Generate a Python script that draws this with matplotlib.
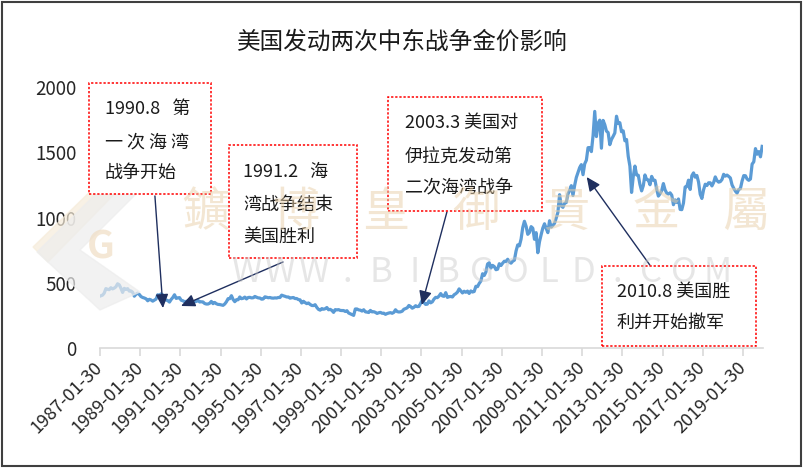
import numpy as np
import matplotlib.pyplot as plt
from matplotlib.patches import Rectangle, Polygon

plt.rcParams['font.family'] = ['Noto Sans CJK SC', 'DejaVu Sans']

# 月度金价 (美元/盎司), 1987-01 ~ 2019-12
gold_1987 = [400, 405, 420, 455, 450, 447, 462, 453, 459, 469, 492, 484]
gold_1988 = [458, 426, 457, 449, 455, 436, 437, 427, 397, 412, 420, 410]
gold_1989 = [394, 387, 383, 377, 362, 373, 368, 359, 367, 375, 408, 401]
gold_1990 = [415, 407, 368, 368, 363, 352, 372, 387, 408, 380, 384, 386]
gold_1991 = [366, 362, 355, 357, 360, 367, 362, 347, 354, 357, 366, 353]
gold_1992 = [354, 353, 341, 337, 337, 343, 357, 340, 349, 339, 334, 333]
gold_1993 = [330, 327, 337, 354, 378, 378, 401, 372, 355, 370, 370, 391]
gold_1994 = [378, 381, 390, 376, 387, 388, 384, 385, 395, 389, 384, 383]
gold_1995 = [374, 376, 392, 389, 385, 387, 383, 382, 384, 383, 387, 387]
gold_1996 = [405, 400, 396, 391, 391, 382, 385, 387, 379, 379, 371, 369]
gold_1997 = [345, 358, 348, 340, 345, 334, 326, 325, 332, 311, 296, 290]
gold_1998 = [302, 297, 301, 310, 293, 296, 288, 273, 294, 292, 294, 288]
gold_1999 = [287, 287, 280, 286, 268, 262, 256, 250, 299, 299, 292, 290]
gold_2000 = [283, 293, 277, 275, 272, 288, 277, 278, 273, 265, 270, 273]
gold_2001 = [266, 267, 258, 264, 268, 271, 266, 273, 293, 279, 276, 277]
gold_2002 = [282, 297, 302, 308, 326, 318, 305, 312, 324, 317, 319, 342]
gold_2003 = [368, 348, 334, 336, 361, 346, 354, 375, 388, 386, 398, 417]
gold_2004 = [399, 396, 424, 388, 393, 395, 391, 408, 416, 428, 453, 438]
gold_2005 = [422, 435, 427, 436, 418, 437, 429, 433, 473, 470, 495, 513]
gold_2006 = [569, 556, 582, 644, 653, 613, 633, 624, 600, 604, 646, 632]
gold_2007 = [650, 665, 662, 680, 659, 650, 665, 673, 743, 790, 783, 834]
gold_2008 = [923, 971, 933, 871, 885, 930, 918, 833, 884, 730, 814, 869]
gold_2009 = [920, 952, 916, 884, 975, 926, 939, 956, 996, 1040, 1175, 1088]
gold_2010 = [1078, 1109, 1115, 1180, 1208, 1244, 1169, 1246, 1307, 1346, 1383, 1405]
gold_2011 = [1328, 1411, 1439, 1535, 1536, 1505, 1628, 1813, 1620, 1723, 1746, 1531]
gold_2012 = [1744, 1711, 1662, 1651, 1558, 1598, 1622, 1648, 1776, 1720, 1726, 1657]
gold_2013 = [1664, 1588, 1598, 1469, 1394, 1192, 1314, 1394, 1326, 1324, 1253, 1204]
gold_2014 = [1244, 1326, 1291, 1288, 1251, 1315, 1285, 1285, 1216, 1164, 1182, 1206]
gold_2015 = [1260, 1212, 1187, 1180, 1189, 1171, 1098, 1135, 1115, 1142, 1062, 1060]
gold_2016 = [1111, 1234, 1237, 1286, 1215, 1320, 1342, 1309, 1322, 1272, 1178, 1146]
gold_2017 = [1212, 1255, 1245, 1266, 1266, 1242, 1268, 1311, 1283, 1271, 1275, 1291]
gold_2018 = [1331, 1317, 1325, 1315, 1303, 1250, 1224, 1202, 1187, 1215, 1221, 1279]
gold_2019 = [1321, 1320, 1295, 1285, 1295, 1409, 1427, 1528, 1485, 1505, 1465, 1545]

price = np.array(gold_1987 + gold_1988 + gold_1989 + gold_1990 + gold_1991 + gold_1992
                 + gold_1993 + gold_1994 + gold_1995 + gold_1996 + gold_1997 + gold_1998
                 + gold_1999 + gold_2000 + gold_2001 + gold_2002 + gold_2003 + gold_2004
                 + gold_2005 + gold_2006 + gold_2007 + gold_2008 + gold_2009 + gold_2010
                 + gold_2011 + gold_2012 + gold_2013 + gold_2014 + gold_2015 + gold_2016
                 + gold_2017 + gold_2018 + gold_2019)

x_labels = ["1987-01-30", "1989-01-30", "1991-01-30", "1993-01-30", "1995-01-30",
            "1997-01-30", "1999-01-30", "2001-01-30", "2003-01-30", "2005-01-30",
            "2007-01-30", "2009-01-30", "2011-01-30", "2013-01-30", "2015-01-30",
            "2017-01-30", "2019-01-30"]
y_ticks = [0, 500, 1000, 1500, 2000]

title = "美国发动两次中东战争金价影响"

# 注释框文字
notes = [
    ["1990.8   第", "一 次 海 湾", "战争开始"],
    ["1991.2   海", "湾战争结束", "美国胜利"],
    ["2003.3 美国对", "伊拉克发动第", "二次海湾战争"],
    ["2010.8 美国胜", "利并开始撤军"],
]

# 像素 -> figure 坐标
W, H = 804, 472
def fx(px):
    return px / W
def fy(py):
    return 1 - py / H

fig = plt.figure(figsize=(W / 100, H / 100), dpi=100)
ax = fig.add_axes([fx(100), fy(348), 663 / W, 261 / H])

x = np.arange(len(price))
ax.plot(x, price, color='#5B9BD5', lw=2.3, solid_joinstyle='round', zorder=3)
ax.set_xlim(-0.5, len(price) - 0.5)
ax.set_ylim(0, 2000)
ax.set_yticks(y_ticks)
ax.set_yticklabels([str(v) for v in y_ticks], fontsize=13.5, color='#262626')
ax.set_xticks(np.arange(-0.5, len(price) - 1, 24))
ax.set_xticklabels(x_labels, rotation=45, ha='right', va='center',
                   rotation_mode='anchor', fontsize=13, color='#262626')
for s in ['top', 'right', 'left']:
    ax.spines[s].set_visible(False)
ax.spines['bottom'].set_color('#D9D9D9')
ax.spines['bottom'].set_linewidth(1.2)
ax.tick_params(axis='y', length=0, pad=17)
ax.tick_params(axis='x', length=6, width=1.2, color='#D9D9D9', pad=6)
ax.patch.set_alpha(0)

fig.text(fx(402), fy(42), title, ha='center', va='center', fontsize=17, color='#1a1a1a')

# 注释框 (x0, y0, x1, y1) 像素
boxes = [(89, 83, 211, 194), (229, 145, 357, 258), (388, 97, 542, 211), (602, 266, 756, 346)]
text_x = [105, 243, 405, 617]
text_y = [[109, 142, 173], [172, 205, 237], [123, 157, 188], [292, 323]]
for (x0, y0, x1, y1), lines, tx, tys in zip(boxes, notes, text_x, text_y):
    fig.add_artist(Rectangle((fx(x0), fy(y1)), (x1 - x0) / W, (y1 - y0) / H,
                             transform=fig.transFigure, facecolor='white',
                             edgecolor='#FF0000', lw=1.1, ls=(0, (1.5, 1.2)), zorder=5))
    for s, ty in zip(lines, tys):
        fig.text(fx(tx), fy(ty), s, ha='left', va='center', fontsize=13,
                 color='#1a1a1a', zorder=6)

# 箭头: (起点, 终点) 数据坐标 (月序号, 金价)
arrows = [((32.3, 1165), (37.1, 306)),
          ((108.8, 659), (47.9, 322)),
          ((206.7, 1042), (191.7, 330)),
          ((327.9, 636), (290.2, 1310))]
for start, tip in arrows:
    ax.annotate('', xy=tip, xytext=start,
                arrowprops=dict(arrowstyle='-|>,head_length=0.7,head_width=0.32',
                                color='#1F2F5F', lw=1.0, shrinkA=0, shrinkB=0,
                                mutation_scale=12), zorder=4)

# 水印
wm_chars = "鑛博皇御貴金屬"
for cx, ch in zip(np.linspace(206, 746, 7), wm_chars):
    fig.text(fx(cx), fy(213), ch, ha='center', va='center', fontsize=34,
             family=['Noto Sans CJK TC', 'DejaVu Sans'], color='#E8CFA8',
             alpha=0.5, zorder=10)
for cx, ch in zip(np.linspace(246, 718, 15), "WWW.BIBGOLD.COM"):
    fig.text(fx(cx), fy(272), ch, ha='center', va='center', fontsize=25,
             color='#C8C8C8', alpha=0.45, zorder=10)
logo_tan = [(33, 247), (133, 150), (143, 165), (48, 262)]
logo_gray = [(37, 252), (100, 190), (140, 190), (80, 250), (140, 292), (100, 310)]
fig.add_artist(Polygon([(fx(a), fy(b)) for a, b in logo_tan], closed=True,
                       transform=fig.transFigure, color='#F6ECDA', alpha=0.7, zorder=1))
fig.add_artist(Polygon([(fx(a), fy(b)) for a, b in logo_gray], closed=True,
                       transform=fig.transFigure, color='#EDEDED', alpha=0.7, zorder=1))
fig.text(fx(101), fy(247), "G", ha='center', va='center', fontsize=28, weight='bold',
         color='#F0DEC4', alpha=0.7, zorder=1)

# 外框
fig.add_artist(Rectangle((fx(2), fy(466)), 799 / W, 464 / H, transform=fig.transFigure,
                         fill=False, edgecolor='#3F3F3F', lw=1.5, zorder=20))

fig.savefig('out.png', dpi=100)
